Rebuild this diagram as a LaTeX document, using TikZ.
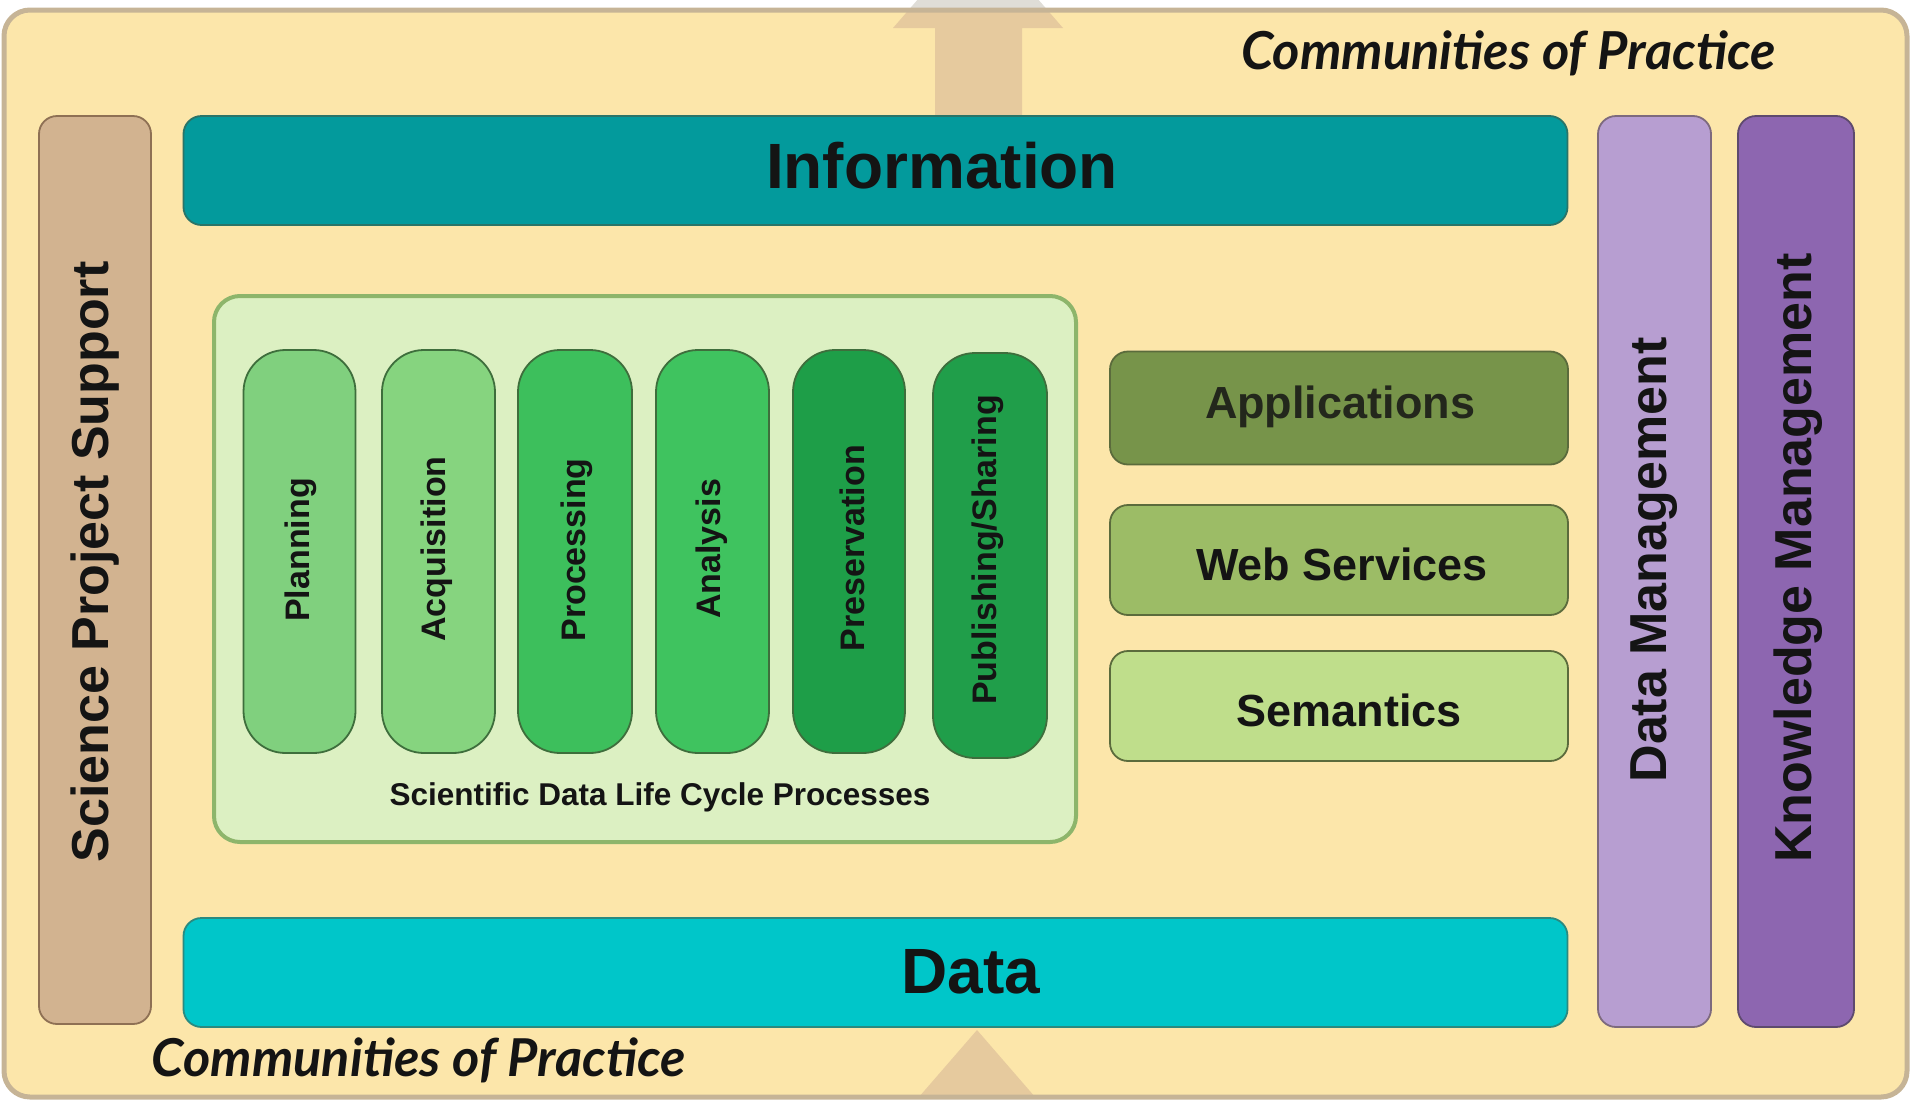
\documentclass[tikz,border=0pt]{standalone}
\usepackage{fontspec}
\setmainfont{Liberation Sans}
\newfontfamily\copfont{Lato}
\definecolor{frameFill}{HTML}{FCE6AA}
\definecolor{frameLine}{HTML}{C6B496}
\definecolor{arrowTan}{HTML}{E6CA9E}
\definecolor{arrowGray}{HTML}{DFDDD7}
\definecolor{spsFill}{HTML}{D2B390}
\definecolor{spsLine}{HTML}{8E7054}
\definecolor{infoFill}{HTML}{039A9C}
\definecolor{infoLine}{HTML}{2A7468}
\definecolor{dataFill}{HTML}{00C6C9}
\definecolor{dataLine}{HTML}{2A8A80}
\definecolor{dmFill}{HTML}{B79ED1}
\definecolor{dmLine}{HTML}{7D6A7E}
\definecolor{kmFill}{HTML}{8D66B0}
\definecolor{kmLine}{HTML}{5E4A6E}
\definecolor{contFill}{HTML}{DCF0C2}
\definecolor{contLine}{HTML}{8DB56B}
\definecolor{pillA}{HTML}{80D07E}
\definecolor{pillB}{HTML}{86D47F}
\definecolor{pillC}{HTML}{3DBF5C}
\definecolor{pillD}{HTML}{3FC35F}
\definecolor{pillE}{HTML}{1E9E48}
\definecolor{pillF}{HTML}{209E4A}
\definecolor{pillLine}{HTML}{3E6E3C}
\definecolor{appFill}{HTML}{77944A}
\definecolor{wsFill}{HTML}{9CBC66}
\definecolor{semFill}{HTML}{BFDE8B}
\definecolor{rbLine}{HTML}{5B6B3C}
\definecolor{txt}{HTML}{141414}
\begin{document}
\begin{tikzpicture}[x=1pt,y=-1pt,
  box/.style={draw, line width=1.8pt, rounded corners=18pt, inner sep=0pt, outer sep=0pt},
  pill/.style={draw=pillLine, line width=1.8pt, rounded corners=42pt, minimum height=403pt, inner sep=0pt},
  rbox/.style={box, draw=rbLine, minimum width=458pt, minimum height=110pt, text=txt, font=\fontsize{45}{50}\selectfont\bfseries},
  vtext/.style={rotate=90, inner sep=0pt, text=txt, font=\fontsize{52}{56}\selectfont\bfseries},
  ptext/.style={rotate=90, inner sep=0pt, text=txt, font=\fontsize{34}{38}\selectfont\bfseries},
  btext/.style={inner sep=0pt, text=txt, font=\fontsize{64}{70}\selectfont\bfseries},
  coptext/.style={inner sep=0pt, text=txt, font=\copfont\bfseries\itshape}
]
\useasboundingbox (0,0) rectangle (1911,1101);
% ghost of the top arrow outside the frame
\fill[arrowGray] (893,28) -- (978,-70) -- (1063,28) -- cycle;
% frame
\fill[frameFill, rounded corners=26pt] (4,10) rectangle (1907,1097);
\begin{scope}
  \clip[rounded corners=26pt] (4,10) rectangle (1907,1097);
  \fill[arrowTan] (893,28) -- (978,-70) -- (1063,28) -- (1022,28) -- (1022,130) -- (935,130) -- (935,28) -- cycle;
  \fill[arrowTan] (912,1105) -- (977,1030) -- (1042,1105) -- cycle;
\end{scope}
\draw[frameLine, line width=5pt, rounded corners=26pt] (4,10) rectangle (1907,1097);

% side bars
\node[box, draw=spsLine, fill=spsFill, minimum width=112pt, minimum height=908pt] (sps) at (95,570) {};
\node[vtext] (spst) at (95.5,562) {Science Project Support};
\node[box, draw=dmLine, fill=dmFill, minimum width=113pt, minimum height=911pt] (dm) at (1654.5,571.5) {};
\node[vtext] (dmt) at (1654,560) {Data Management};
\node[box, draw=kmLine, fill=kmFill, minimum width=116pt, minimum height=911pt] (km) at (1796,571.5) {};
\node[vtext] (kmt) at (1798,558) {Knowledge Management};

% horizontal bars
\node[box, draw=infoLine, fill=infoFill, minimum width=1384pt, minimum height=109pt] (info) at (875.5,170.5) {};
\node[btext] (infot) at (942,166) {Information};
\node[box, draw=dataLine, fill=dataFill, minimum width=1384pt, minimum height=109pt] (data) at (875.5,972.5) {};
\node[btext] (datat) at (971,972) {Data};

% life cycle container
\node[draw=contLine, fill=contFill, line width=4pt, rounded corners=26pt, minimum width=862pt, minimum height=546pt, inner sep=0pt] (cont) at (645,569) {};
\node[pill, fill=pillA, minimum width=112pt] (plan) at (299.5,551.5) {};
\node[pill, fill=pillB, minimum width=113pt] (acq) at (438.5,551.5) {};
\node[pill, fill=pillC, minimum width=114pt] (proc) at (575,551.5) {};
\node[pill, fill=pillD, minimum width=113pt] (ana) at (712.5,551.5) {};
\node[pill, fill=pillE, minimum width=112pt] (pres) at (849,551.5) {};
\node[pill, fill=pillF, minimum width=114pt, minimum height=405pt] (pub) at (990,555.5) {};
\node[ptext] (plant) at (301,550) {Planning};
\node[ptext] (acqt) at (437,549) {Acquisition};
\node[ptext] (proct) at (577,550) {Processing};
\node[ptext] (anat) at (712,549) {Analysis};
\node[ptext] (prest) at (852,548) {Preservation};
\node[ptext] (pubt) at (988,550) {Publishing/Sharing};
\node[inner sep=0pt, text=txt, font=\fontsize{31.5}{34}\selectfont\bfseries] (contt) at (660,797) {Scientific Data Life Cycle Processes};

% right boxes
\node[rbox, fill=appFill, minimum height=113pt] (app) at (1339,408) {};
\node[inner sep=0pt, text=txt!85!appFill, font=\fontsize{45}{50}\selectfont\bfseries] (appt) at (1340,407) {Applications};
\node[rbox, fill=wsFill] (ws) at (1339,560) {};
\node[inner sep=0pt, text=txt, font=\fontsize{45}{50}\selectfont\bfseries] (wst) at (1342,564) {Web Services};
\node[rbox, fill=semFill] (sem) at (1339,706) {};
\node[inner sep=0pt, text=txt, font=\fontsize{45}{50}\selectfont\bfseries] (semt) at (1349,710) {Semantics};

% communities of practice
\node[coptext] (cop1) at (1508.5,53) {\resizebox{535pt}{!}{Communities of Practice}};
\node[coptext] (cop2) at (419,1060) {\resizebox{534pt}{!}{Communities of Practice}};
\end{tikzpicture}
\end{document}
